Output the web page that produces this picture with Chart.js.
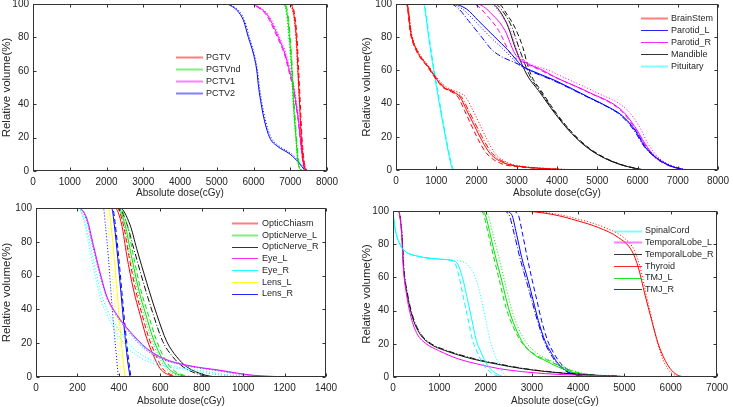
<!DOCTYPE html>
<html>
<head>
<meta charset="utf-8">
<script src="https://cdn.jsdelivr.net/npm/chart.js@4/dist/chart.umd.min.js"></script>
<style>
html,body{margin:0;padding:0;background:#fff;}
#wrap{position:relative;width:733px;height:407px;overflow:hidden;background:#fff;}
canvas{position:absolute;}
</style>
</head>
<body>
<div id="wrap">
<canvas id="c1" width="365" height="200" style="left:0;top:0"></canvas>
<canvas id="c2" width="373" height="200" style="left:360px;top:0"></canvas>
<canvas id="c3" width="365" height="207" style="left:0;top:200px"></canvas>
<canvas id="c4" width="373" height="207" style="left:360px;top:200px"></canvas>
</div>
<script>
// ===================== DATA =====================
// ---- Panel 1: targets ----
const p1Names = ['PGTV', 'PGTVnd', 'PCTV1', 'PCTV2'];
const pgtvVol = [100, 100, 95, 80, 60, 40, 20, 5, 0];
const pgtvDoseSolid = [0, 6980, 7090, 7165, 7210, 7255, 7300, 7360, 7430];
const pgtvDoseDash = [0, 7010, 7110, 7185, 7230, 7275, 7320, 7385, 7450];
const pgtvDoseDot = [0, 6950, 7070, 7150, 7200, 7250, 7310, 7380, 7460];
const pgtvndVol = [100, 100, 95, 80, 60, 40, 20, 5, 0];
const pgtvndDoseSolid = [0, 6800, 6910, 6980, 7045, 7090, 7155, 7210, 7310];
const pgtvndDoseDash = [0, 6830, 6930, 7000, 7060, 7110, 7170, 7235, 7330];
const pgtvndDoseDot = [0, 6780, 6890, 6960, 7030, 7080, 7150, 7220, 7300];
const pctv1Vol = [100, 100, 98, 95, 90, 80, 70, 60, 50, 40, 30, 20, 10, 5, 0];
const pctv1DoseSolid = [0, 5950, 6140, 6320, 6470, 6680, 6860, 6980, 7090, 7160, 7225, 7270, 7320, 7350, 7430];
const pctv1DoseDash = [0, 5930, 6120, 6290, 6440, 6650, 6840, 6960, 7070, 7150, 7215, 7265, 7315, 7345, 7420];
const pctv1DoseDot = [0, 5980, 6170, 6350, 6500, 6710, 6890, 7010, 7110, 7180, 7240, 7285, 7335, 7365, 7450];
const pctv2Vol = [100, 100, 99, 96, 90, 80, 70, 60, 50, 40, 30, 20, 15, 10, 5, 0];
const pctv2DoseSolid = [0, 5250, 5380, 5560, 5730, 5860, 6000, 6090, 6140, 6210, 6300, 6440, 6640, 7000, 7230, 7410];
const pctv2DoseDot = [0, 5290, 5420, 5600, 5760, 5890, 6020, 6110, 6165, 6235, 6330, 6480, 6700, 7050, 7260, 7450];

// ---- Panel 2 ----
const p2Names = ['BrainStem', 'Parotid_L', 'Parotid_R', 'Mandible', 'Pituitary'];
const brainstemVol = [100, 100, 82, 72, 62, 56, 50, 47, 44, 36, 26, 18, 10, 4, 2, 1, 0];
const brainstemDoseSolid = [0, 265, 373, 515, 803, 969, 1176, 1424, 1590, 1755, 1962, 2128, 2335, 2708, 3122, 3600, 4400];
const brainstemDoseDash = [0, 255, 360, 500, 785, 955, 1150, 1380, 1540, 1700, 1890, 2050, 2250, 2600, 3000, 3500, 4300];
const brainstemDoseDashDot = [0, 270, 380, 525, 815, 985, 1200, 1450, 1625, 1800, 2010, 2180, 2390, 2760, 3160, 3650, 4450];
const brainstemDoseDot = [0, 280, 390, 540, 830, 1000, 1250, 1530, 1730, 1910, 2110, 2270, 2460, 2820, 3220, 3720, 4600];
const parotidLVol = [100, 100, 97, 90, 80, 72, 63, 59, 54, 44, 38, 33, 24, 14, 8, 3, 0.5, 0];
const parotidLDoseSolid = [0, 1400, 1750, 2045, 2459, 2790, 3122, 3453, 3950, 4777, 5273, 5606, 5937, 6185, 6434, 6764, 7097, 7200];
const parotidLDoseDashDot = [0, 1350, 1560, 1800, 2130, 2400, 3100, 3400, 3900, 4750, 5250, 5580, 5910, 6170, 6420, 6750, 7080, 7180];
const parotidLDoseDot = [0, 1380, 1650, 1950, 2350, 2700, 3080, 3420, 3920, 4760, 5260, 5600, 5950, 6210, 6470, 6800, 7120, 7220];
const parotidRVol = [100, 100, 92, 84, 70, 65, 60, 56, 47, 36, 26, 16, 8, 3, 0];
const parotidRDoseSolid = [0, 2000, 2459, 2708, 2956, 3204, 3650, 3950, 4777, 5606, 5937, 6185, 6434, 6764, 7200];
const parotidRDoseDash = [0, 1900, 2300, 2550, 2850, 3150, 3600, 3940, 4760, 5580, 5910, 6160, 6410, 6740, 7150];
const parotidRDoseDot = [0, 2350, 2650, 2850, 3039, 3250, 3800, 4150, 4950, 5750, 6050, 6260, 6500, 6820, 7250];
const mandibleVol = [100, 100, 94, 86, 74, 64, 56, 48, 34, 22, 13, 7, 3, 0.6, 0];
const mandibleDoseSolid = [0, 2377, 2625, 2790, 2956, 3122, 3287, 3536, 3950, 4364, 4777, 5191, 5606, 6020, 6150];
const mandibleDoseDash = [0, 2550, 2750, 2950, 3150, 3260, 3380, 3600, 3990, 4400, 4810, 5220, 5630, 6040, 6180];
const mandibleDoseDashDot = [0, 2450, 2700, 2880, 3050, 3200, 3340, 3570, 3970, 4380, 4790, 5200, 5620, 6030, 6160];
const pituitaryVol = [100, 100, 95, 80, 60, 40, 20, 5, 0];
const pituitaryDoseSolid = [0, 687, 729, 812, 936, 1077, 1226, 1350, 1408];
const pituitaryDoseDash = [0, 700, 742, 826, 950, 1092, 1240, 1366, 1425];

// ---- Panel 3 ----
const p3Names = ['OpticChiasm', 'OpticNerve_L', 'OpticNerve_R', 'Eye_L', 'Eye_R', 'Lens_L', 'Lens_R'];
const chiasmVol = [100, 100, 90, 72, 52, 37, 23, 13, 5, 1, 0];
const chiasmDoseSolid = [0, 381, 414, 438, 470, 502, 534, 566, 599, 647, 700];
const chiasmDoseDash = [0, 390, 422, 448, 480, 512, 545, 578, 612, 660, 715];
const nerveLVol = [100, 100, 90, 72, 52, 37, 23, 13, 5, 1, 0];
const nerveLDoseSolid = [0, 397, 430, 460, 495, 530, 565, 600, 640, 700, 760];
const nerveLDoseDash = [0, 405, 440, 470, 505, 542, 578, 612, 655, 715, 775];
const nerveLDoseDot = [0, 392, 424, 452, 487, 520, 555, 590, 628, 688, 750];
const nerveRVol = [100, 100, 90, 76, 56, 37, 21, 12, 6, 1, 0];
const nerveRDoseSolid = [0, 405, 454, 486, 534, 583, 631, 679, 728, 820, 870];
const nerveRDoseDashDot = [0, 398, 440, 472, 518, 566, 612, 660, 710, 800, 850];
const eyeVol = [100, 100, 94, 78, 62, 48, 37, 27, 17, 11, 7, 4, 1, 0];
const eyeLDoseSolid = [0, 205, 245, 277, 309, 341, 390, 454, 534, 615, 728, 888, 1050, 1250];
const eyeLDoseDot = [0, 200, 240, 272, 305, 338, 385, 445, 520, 600, 710, 860, 1020, 1200];
const eyeRDoseSolid = [0, 205, 243, 275, 307, 340, 388, 450, 528, 608, 720, 875, 1040, 1230];
const eyeRDoseDot = [0, 198, 232, 262, 290, 318, 355, 405, 470, 540, 640, 780, 950, 1150];
const eyeRDoseDot2 = [0, 195, 228, 255, 282, 308, 342, 385, 445, 510, 600, 740, 900, 1100];
const lensVol = [100, 100, 90, 70, 50, 30, 10, 0];
const lensLDoseSolid = [0, 350, 362, 378, 392, 405, 420, 430];
const lensLDoseDot = [0, 335, 348, 362, 375, 388, 402, 412];
const lensRDoseSolid = [0, 365, 378, 395, 410, 425, 442, 454];
const lensRDoseDash = [0, 370, 383, 400, 415, 430, 447, 458];
const lensRDoseDot = [0, 325, 335, 350, 362, 375, 390, 397];

// ---- Panel 4 ----
const p4Names = ['SpinalCord', 'TemporalLobe_L', 'TemporalLobe_R', 'Thyroid', 'TMJ_L', 'TMJ_R'];
const spinalVol = [100, 90, 80, 76, 73, 71, 70, 68, 60, 48, 35, 22, 15, 9, 5, 1, 0];
const spinalDoseSolid = [0, 40, 150, 250, 500, 1000, 1300, 1400, 1500, 1600, 1700, 1800, 1900, 2000, 2100, 2300, 2400];
const spinalDoseDash = [0, 40, 150, 250, 500, 1000, 1270, 1350, 1430, 1520, 1620, 1720, 1820, 1920, 2020, 2220, 2320];
const spinalDoseDot = [0, 45, 160, 260, 520, 1020, 1400, 1600, 1780, 1900, 2000, 2100, 2180, 2260, 2330, 2420, 2470];
const temporalVol = [100, 100, 86, 66, 50, 36, 26, 20, 16, 11, 8, 5, 2, 0.4, 0];
const temporalLDoseSolid = [0, 115, 187, 223, 290, 390, 520, 720, 980, 1400, 1800, 2300, 3300, 4800, 5000];
const temporalRDoseSolid = [0, 115, 190, 228, 305, 420, 580, 800, 1120, 1700, 2200, 2800, 3800, 4900, 5200];
const temporalRDoseDash = [0, 118, 195, 235, 315, 435, 600, 830, 1160, 1760, 2260, 2860, 3850, 4950, 5250];
const thyroidVol = [100, 100, 98, 94, 90, 84, 76, 66, 50, 34, 20, 10, 4, 1, 0];
const thyroidDoseSolid = [0, 2700, 3430, 4000, 4440, 4870, 5160, 5300, 5440, 5590, 5730, 5880, 6020, 6160, 6300];
const thyroidDoseDot = [0, 2750, 3550, 4150, 4580, 4980, 5220, 5340, 5470, 5600, 5720, 5840, 5960, 6100, 6250];
const tmjLVol = [100, 100, 98, 86, 74, 58, 42, 30, 20, 13, 10, 6, 3, 1, 0];
const tmjLDoseSolid = [0, 1900, 1990, 2100, 2200, 2350, 2490, 2640, 2820, 3070, 3280, 3570, 3860, 4290, 4720];
const tmjLDoseDash = [0, 1870, 1955, 2060, 2160, 2300, 2440, 2600, 2800, 3100, 3350, 3650, 3950, 4350, 4800];
const tmjLDoseDot = [0, 1950, 2050, 2160, 2270, 2410, 2550, 2700, 2900, 3180, 3400, 3700, 4000, 4400, 4900];
const tmjRVol = [100, 100, 98, 86, 72, 58, 46, 34, 22, 14, 8, 3, 1, 0];
const tmjRDoseSolid = [0, 2400, 2560, 2670, 2780, 2920, 3030, 3140, 3280, 3430, 3570, 3790, 4000, 4100];
const tmjRDoseDash = [0, 2550, 2700, 2800, 2900, 3010, 3110, 3210, 3340, 3480, 3630, 3850, 4050, 4150];
const tmjRDoseDashDot = [0, 2350, 2500, 2620, 2740, 2880, 3000, 3120, 3260, 3400, 3550, 3760, 3960, 4060];

// Axis ticks
const volTicks = [0, 20, 40, 60, 80, 100];
const p1DoseTicks = [0, 1000, 2000, 3000, 4000, 5000, 6000, 7000, 8000];
const p2DoseTicks = [0, 1000, 2000, 3000, 4000, 5000, 6000, 7000, 8000];
const p3DoseTicks = [0, 200, 400, 600, 800, 1000, 1200, 1400];
const p4DoseTicks = [0, 1000, 2000, 3000, 4000, 5000, 6000, 7000];

// ===================== STYLES =====================
const COL = {red:'#ff0000', green:'#00e000', magenta:'#ff00ff', blue:'#0000ff', black:'#111111', cyan:'#00ffff', yellow:'#ffff00'};
const DASH = {solid:[], dash:[5,3], dashdot:[6,2,1,2], dot:[1,2]};
const FONT = '"Liberation Sans", Arial, Helvetica, sans-serif';
const TXT = '#262626';

function pts(dose, vol){ return dose.map((d,i)=>({x:d, y:vol[i]})); }
function ds(dose, vol, color, style){
  return {data: pts(dose, vol), borderColor: color, borderWidth: 1, borderDash: DASH[style],
    pointRadius: 0, fill: false, cubicInterpolationMode: 'monotone'};
}

const framePlugin = {
  id: 'frame',
  afterDatasetsDraw(chart, args, opts){
    const {ctx, chartArea: a, scales} = chart;
    ctx.save();
    ctx.strokeStyle = '#333'; ctx.lineWidth = 1; ctx.setLineDash([]);
    const L = Math.round(a.left)+0.5, R = Math.round(a.right)-0.5, T = Math.round(a.top)+0.5, B = Math.round(a.bottom)-0.5;
    ctx.strokeRect(L, T, R-L, B-T);
    ctx.beginPath();
    scales.x.ticks.forEach(t=>{
      const px = Math.round(scales.x.getPixelForValue(t.value))+0.5;
      ctx.moveTo(px, B); ctx.lineTo(px, B-3); ctx.moveTo(px, T); ctx.lineTo(px, T+3);
    });
    scales.y.ticks.forEach(t=>{
      const py = Math.round(scales.y.getPixelForValue(t.value))+0.5;
      ctx.moveTo(L, py); ctx.lineTo(L+3, py); ctx.moveTo(R, py); ctx.lineTo(R-3, py);
    });
    ctx.stroke();
    // legend
    const lg = opts.legend;
    if (lg){
      ctx.font = '9px ' + FONT;
      ctx.textBaseline = 'middle';
      ctx.textAlign = 'left';
      lg.items.forEach((it, i)=>{
        const y = lg.y0 + i*lg.dy;
        ctx.save();
        ctx.globalAlpha = it.thick ? 0.5 : 0.85;
        ctx.lineWidth = it.thick ? 2 : 1;
        ctx.strokeStyle = it.color;
        ctx.beginPath(); ctx.moveTo(lg.x1, Math.round(y)+0.5); ctx.lineTo(lg.x2, Math.round(y)+0.5); ctx.stroke();
        ctx.restore();
        ctx.fillStyle = TXT;
        ctx.fillText(it.name, lg.tx, y+0.5);
      });
    }
    ctx.restore();
  }
};

function makeChart(id, cfg){
  const cv = document.getElementById(id);
  const W = cv.width, H = cv.height;
  new Chart(cv, {
    type: 'line',
    data: {datasets: cfg.datasets},
    options: {
      responsive: false, animation: false, devicePixelRatio: 1,
      layout: {padding: {left: 0, top: cfg.plotTop, right: W - cfg.plotRight, bottom: 0}},
      plugins: {legend: {display: false}, tooltip: {enabled: false},
        frame: {legend: cfg.legend}},
      scales: {
        x: {type: 'linear', min: cfg.xTicks[0], max: cfg.xTicks[cfg.xTicks.length-1],
          afterBuildTicks: s => { s.ticks = cfg.xTicks.map(v=>({value:v})); },
          grid: {display: false, drawTicks: false}, border: {display: false},
          ticks: {color: TXT, font: {family: FONT, size: 10}, padding: 5, maxRotation: 0, autoSkip: false,
            callback: v => String(v)},
          title: {display: true, text: 'Absolute dose(cGy)', color: TXT, font: {family: FONT, size: 10}, padding: {top: 0, bottom: cfg.xTitlePad}},
          afterFit: s => { s.height = H - cfg.plotBottom; s.paddingLeft = 0; s.paddingRight = 0; }
        },
        y: {type: 'linear', min: 0, max: 100,
          afterBuildTicks: s => { s.ticks = volTicks.map(v=>({value:v})); },
          grid: {display: false, drawTicks: false}, border: {display: false},
          ticks: {color: TXT, font: {family: FONT, size: 10}, padding: 4, autoSkip: false,
            callback: v => String(v)},
          title: {display: true, text: 'Relative volume(%)', color: TXT, font: {family: FONT, size: 11.5}, padding: {top: 0, bottom: 0}},
          afterFit: s => { s.width = cfg.plotLeft; s.paddingTop = 0; s.paddingBottom = 0; }
        }
      }
    },
    plugins: [framePlugin]
  });
}

// Panel 1
makeChart('c1', {
  plotLeft: 33, plotRight: 327, plotTop: 4, plotBottom: 171, xTitlePad: 1, xTicks: p1DoseTicks,
  datasets: [
    ds(pgtvDoseSolid, pgtvVol, COL.red, 'solid'), ds(pgtvDoseDash, pgtvVol, COL.red, 'dash'), ds(pgtvDoseDot, pgtvVol, COL.red, 'dot'),
    ds(pgtvndDoseSolid, pgtvndVol, COL.green, 'solid'), ds(pgtvndDoseDash, pgtvndVol, COL.green, 'dashdot'), ds(pgtvndDoseDot, pgtvndVol, COL.green, 'dot'),
    ds(pctv1DoseSolid, pctv1Vol, COL.magenta, 'solid'), ds(pctv1DoseDash, pctv1Vol, COL.magenta, 'dash'), ds(pctv1DoseDot, pctv1Vol, COL.magenta, 'dot'),
    ds(pctv2DoseSolid, pctv2Vol, COL.blue, 'solid'), ds(pctv2DoseDot, pctv2Vol, COL.blue, 'dot')
  ],
  legend: {x1: 176, x2: 203, tx: 206, y0: 57, dy: 11.9, items: [
    {name: p1Names[0], color: COL.red, thick: true}, {name: p1Names[1], color: COL.green, thick: true},
    {name: p1Names[2], color: COL.magenta, thick: true}, {name: p1Names[3], color: COL.blue, thick: true}]}
});

// Panel 2
makeChart('c2', {
  plotLeft: 36, plotRight: 358, plotTop: 4, plotBottom: 170, xTitlePad: 1, xTicks: p2DoseTicks,
  datasets: [
    ds(brainstemDoseSolid, brainstemVol, COL.red, 'solid'), ds(brainstemDoseDash, brainstemVol, COL.red, 'dash'),
    ds(brainstemDoseDashDot, brainstemVol, COL.red, 'dashdot'), ds(brainstemDoseDot, brainstemVol, COL.red, 'dot'),
    ds(parotidLDoseSolid, parotidLVol, COL.blue, 'solid'), ds(parotidLDoseDashDot, parotidLVol, COL.blue, 'dashdot'), ds(parotidLDoseDot, parotidLVol, COL.blue, 'dot'),
    ds(parotidRDoseSolid, parotidRVol, COL.magenta, 'solid'), ds(parotidRDoseDash, parotidRVol, COL.magenta, 'dash'), ds(parotidRDoseDot, parotidRVol, COL.magenta, 'dot'),
    ds(mandibleDoseSolid, mandibleVol, COL.black, 'solid'), ds(mandibleDoseDash, mandibleVol, COL.black, 'dash'), ds(mandibleDoseDashDot, mandibleVol, COL.black, 'dashdot'),
    ds(pituitaryDoseSolid, pituitaryVol, COL.cyan, 'solid'), ds(pituitaryDoseDash, pituitaryVol, COL.cyan, 'dash')
  ],
  legend: {x1: 281, x2: 308, tx: 311, y0: 18.3, dy: 11.85, items: [
    {name: p2Names[0], color: COL.red, thick: true}, {name: p2Names[1], color: COL.blue, thick: false},
    {name: p2Names[2], color: COL.magenta, thick: false}, {name: p2Names[3], color: COL.black, thick: false},
    {name: p2Names[4], color: COL.cyan, thick: true}]}
});

// Panel 3
makeChart('c3', {
  plotLeft: 36, plotRight: 326, plotTop: 8, plotBottom: 177, xTitlePad: 0, xTicks: p3DoseTicks,
  datasets: [
    ds(eyeLDoseSolid, eyeVol, COL.magenta, 'solid'), ds(eyeLDoseDot, eyeVol, COL.magenta, 'dot'),
    ds(eyeRDoseSolid, eyeVol, COL.cyan, 'solid'), ds(eyeRDoseDot, eyeVol, COL.cyan, 'dot'), ds(eyeRDoseDot2, eyeVol, COL.cyan, 'dot'),
    ds(lensLDoseSolid, lensVol, COL.yellow, 'solid'), ds(lensLDoseDot, lensVol, COL.yellow, 'dot'),
    ds(lensRDoseSolid, lensVol, COL.blue, 'solid'), ds(lensRDoseDash, lensVol, COL.blue, 'dash'), ds(lensRDoseDot, lensVol, COL.blue, 'dot'),
    ds(chiasmDoseSolid, chiasmVol, COL.red, 'solid'), ds(chiasmDoseDash, chiasmVol, COL.red, 'dash'),
    ds(nerveLDoseSolid, nerveLVol, COL.green, 'solid'), ds(nerveLDoseDash, nerveLVol, COL.green, 'dash'), ds(nerveLDoseDot, nerveLVol, COL.green, 'dot'),
    ds(nerveRDoseSolid, nerveRVol, COL.black, 'solid'), ds(nerveRDoseDashDot, nerveRVol, COL.black, 'dashdot')
  ],
  legend: {x1: 232, x2: 258, tx: 262, y0: 23, dy: 11.75, items: [
    {name: p3Names[0], color: COL.red, thick: true}, {name: p3Names[1], color: COL.green, thick: true},
    {name: p3Names[2], color: COL.black, thick: false}, {name: p3Names[3], color: COL.magenta, thick: false},
    {name: p3Names[4], color: COL.cyan, thick: false}, {name: p3Names[5], color: COL.yellow, thick: false},
    {name: p3Names[6], color: COL.blue, thick: false}]}
});

// Panel 4
makeChart('c4', {
  plotLeft: 33, plotRight: 357, plotTop: 11, plotBottom: 177, xTitlePad: 0, xTicks: p4DoseTicks,
  datasets: [
    ds(spinalDoseSolid, spinalVol, COL.cyan, 'solid'), ds(spinalDoseDash, spinalVol, COL.cyan, 'dash'), ds(spinalDoseDot, spinalVol, COL.cyan, 'dot'),
    ds(temporalLDoseSolid, temporalVol, COL.magenta, 'solid'),
    ds(temporalRDoseSolid, temporalVol, COL.black, 'solid'), ds(temporalRDoseDash, temporalVol, COL.black, 'dashdot'),
    ds(thyroidDoseSolid, thyroidVol, COL.red, 'solid'), ds(thyroidDoseDot, thyroidVol, COL.red, 'dot'),
    ds(tmjLDoseSolid, tmjLVol, COL.green, 'solid'), ds(tmjLDoseDash, tmjLVol, COL.green, 'dash'), ds(tmjLDoseDot, tmjLVol, COL.green, 'dot'),
    ds(tmjRDoseSolid, tmjRVol, COL.blue, 'solid'), ds(tmjRDoseDash, tmjRVol, COL.blue, 'dash'), ds(tmjRDoseDashDot, tmjRVol, COL.blue, 'dashdot')
  ],
  legend: {x1: 254, x2: 282, tx: 285, y0: 30.5, dy: 11.75, items: [
    {name: p4Names[0], color: COL.cyan, thick: true}, {name: p4Names[1], color: COL.magenta, thick: true},
    {name: p4Names[2], color: COL.black, thick: false}, {name: p4Names[3], color: COL.red, thick: false},
    {name: p4Names[4], color: COL.green, thick: false}, {name: p4Names[5], color: COL.blue, thick: false}]}
});
</script>
</body>
</html>
